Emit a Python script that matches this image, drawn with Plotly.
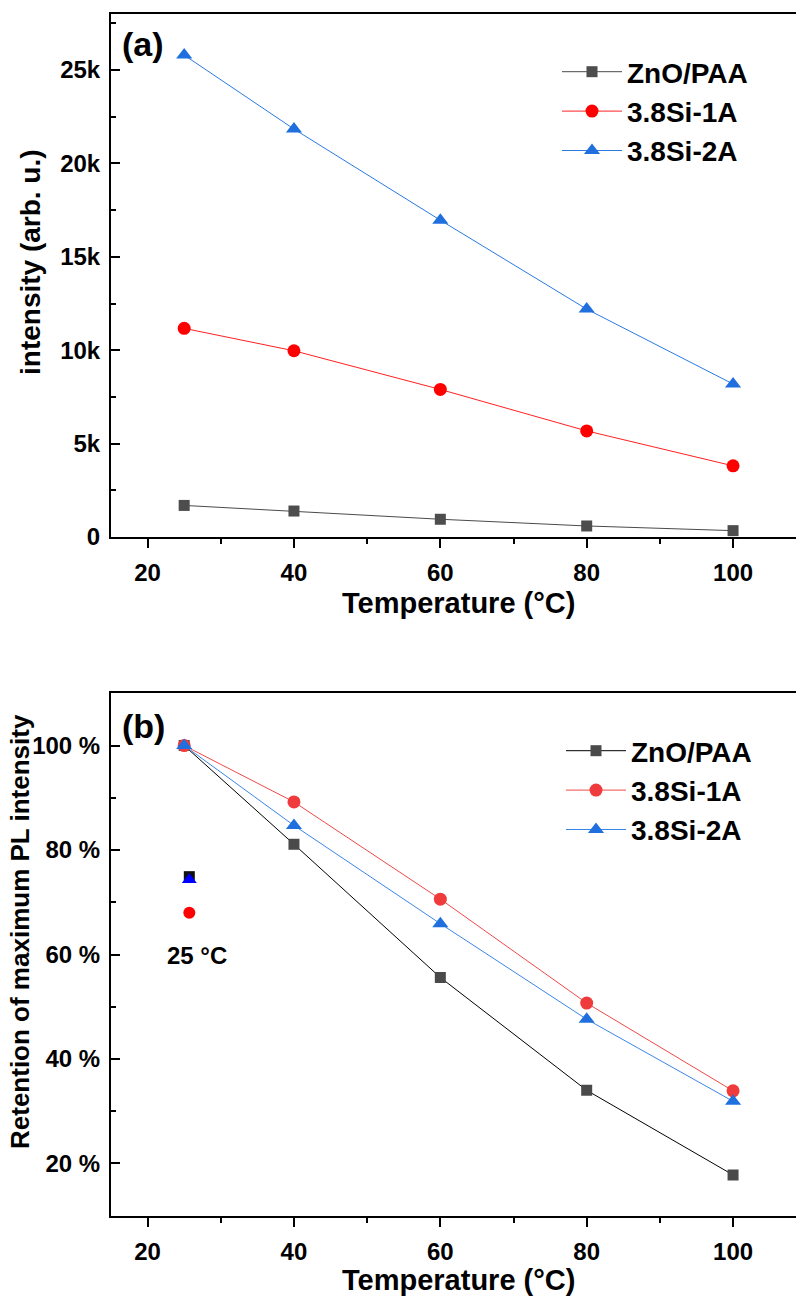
import plotly.graph_objects as go

# ---------------- data ----------------
temps = [25, 40, 60, 80, 100]
series_names = ["ZnO/PAA", "3.8Si-1A", "3.8Si-2A"]

# panel (a): intensity (arb. u.)
int_zno = [1690, 1390, 950, 590, 340]
int_si1a = [11170, 9970, 7900, 5680, 3810]
int_si2a = [25800, 21840, 16960, 12200, 8190]

# panel (b): retention of maximum PL intensity (%)
ret_zno = [100, 81.1, 55.6, 34.0, 17.8]
ret_si1a = [100, 89.2, 70.6, 50.7, 33.9]
ret_si2a = [100, 84.7, 65.9, 47.6, 31.9]

# isolated reference points near 25 °C in panel (b)
ref_x = [25.7]
ref_zno = [74.9]
ref_si2a = [74.3]
ref_si1a = [68.0]
ref_label = "25 °C"

ytick_a_vals = [0, 5000, 10000, 15000, 20000, 25000]
ytick_a_text = ["0", "5k", "10k", "15k", "20k", "25k"]
ytick_b_vals = [20, 40, 60, 80, 100]
ytick_b_text = ["20 %", "40 %", "60 %", "80 %", "100 %"]
xtick_vals = [20, 40, 60, 80, 100]

# ---------------- styling ----------------
W = 796
REF_H = 1297          # reference picture height (layout positions measured in it)
H = 1310              # figure height (the photographed page is slightly taller)
FONT = "Liberation Sans, Arial, Helvetica, sans-serif"

def px_x(p):
    return p / W

def px_y(p):
    return 1 - p / REF_H

col_a = {"ZnO/PAA": ("#4a4a4a", "#4d4d4d"), "3.8Si-1A": ("#ff2020", "#ff0000"), "3.8Si-2A": ("#2a7ae2", "#1f6fde")}
col_b = {"ZnO/PAA": ("#000000", "#4a4a4a"), "3.8Si-1A": ("#f04848", "#ef3b3b"), "3.8Si-2A": ("#3a86e8", "#1f6fde")}
symbols = {"ZnO/PAA": ("square", 11), "3.8Si-1A": ("circle", 13), "3.8Si-2A": ("triangle-up", 14)}

fig = go.Figure()

for name, ys in zip(series_names, [int_zno, int_si1a, int_si2a]):
    lc, mc = col_a[name]
    sym, sz = symbols[name]
    fig.add_trace(go.Scatter(
        x=temps, y=ys, name=name, mode="lines+markers",
        line=dict(color=lc, width=1),
        marker=dict(symbol=sym, size=sz, color=mc, line=dict(width=0)),
        xaxis="x", yaxis="y", legend="legend"))

for name, ys in zip(series_names, [ret_zno, ret_si1a, ret_si2a]):
    lc, mc = col_b[name]
    sym, sz = symbols[name]
    fig.add_trace(go.Scatter(
        x=temps, y=ys, name=name, mode="lines+markers",
        line=dict(color=lc, width=1),
        marker=dict(symbol=sym, size=sz, color=mc, line=dict(width=0)),
        xaxis="x2", yaxis="y2", legend="legend2"))

# isolated points
fig.add_trace(go.Scatter(x=ref_x, y=ref_zno, mode="markers", showlegend=False,
                         marker=dict(symbol="square", size=11, color="#111111"),
                         xaxis="x2", yaxis="y2"))
fig.add_trace(go.Scatter(x=ref_x, y=ref_si2a, mode="markers", showlegend=False,
                         marker=dict(symbol="triangle-up", size=13, color="#0000ff"),
                         xaxis="x2", yaxis="y2"))
fig.add_trace(go.Scatter(x=ref_x, y=ref_si1a, mode="markers", showlegend=False,
                         marker=dict(symbol="circle", size=12, color="#ff0000"),
                         xaxis="x2", yaxis="y2"))

tickfont = dict(family=FONT, size=24, color="black", weight="bold")

def xaxis_cfg(anchor):
    return dict(
        domain=[px_x(111), 1], anchor=anchor, range=[15, 108.6],
        tickmode="array", tickvals=xtick_vals,
        ticks="outside", ticklen=9, tickwidth=2, tickcolor="black",
        minor=dict(dtick=10, tick0=0, ticks="outside", ticklen=5, tickwidth=2, tickcolor="black"),
        showline=True, linewidth=2, linecolor="black", mirror=True,
        showgrid=False, zeroline=False, tickfont=dict(tickfont), ticklabelstandoff=4)

def yaxis_cfg(anchor, top, bottom, rng, vals, text, minor_dt):
    return dict(
        domain=[px_y(bottom), px_y(top)], anchor=anchor, range=rng,
        tickmode="array", tickvals=vals, ticktext=text,
        ticks="inside", ticklen=9, tickwidth=2, tickcolor="black",
        minor=dict(dtick=minor_dt, tick0=0, ticks="inside", ticklen=5, tickwidth=2, tickcolor="black"),
        showline=True, linewidth=2, linecolor="black", mirror=False,
        showgrid=False, zeroline=False, tickfont=dict(tickfont), ticklabelstandoff=4)

leg_font = dict(family=FONT, size=28, color="black", weight="bold")

fig.update_layout(
    width=W, height=H, autosize=False,
    margin=dict(l=0, r=0, t=0, b=0),
    paper_bgcolor="white", plot_bgcolor="white",
    font=dict(family=FONT, color="black"),
    hovermode=False,
    xaxis=xaxis_cfg("y"),
    xaxis2=xaxis_cfg("y2"),
    yaxis=yaxis_cfg("x", 14, 537, [0, 28000], ytick_a_vals, ytick_a_text, 2500),
    yaxis2=yaxis_cfg("x2", 693.3, 1215.7, [10, 110], ytick_b_vals, ytick_b_text, 10),
    legend=dict(x=px_x(557), y=px_y(47), xanchor="left", yanchor="top",
                bgcolor="rgba(0,0,0,0)", borderwidth=0, itemwidth=60,
                font=leg_font, tracegroupgap=0),
    legend2=dict(x=px_x(561), y=px_y(726), xanchor="left", yanchor="top",
                 bgcolor="rgba(0,0,0,0)", borderwidth=0, itemwidth=60,
                 font=leg_font, tracegroupgap=0),
)

def tfont(size):
    return dict(family=FONT, size=size, color="black", weight="bold")

annotations = [
    dict(text="Temperature (°C)", x=px_x(458), y=px_y(603), xref="paper", yref="paper",
         xanchor="center", yanchor="middle", showarrow=False, font=tfont(29)),
    dict(text="Temperature (°C)", x=px_x(458), y=px_y(1280), xref="paper", yref="paper",
         xanchor="center", yanchor="middle", showarrow=False, font=tfont(29)),
    dict(text="intensity (arb. u.)", x=px_x(30), y=px_y(262), xref="paper", yref="paper",
         xanchor="center", yanchor="middle", textangle=-90, showarrow=False, font=tfont(28)),
    dict(text="Retention of maximum PL intensity", x=px_x(20), y=px_y(932), xref="paper", yref="paper",
         xanchor="center", yanchor="middle", textangle=-90, showarrow=False, font=tfont(26)),
    dict(text="(a)", x=px_x(143), y=px_y(44), xref="paper", yref="paper",
         xanchor="center", yanchor="middle", showarrow=False, font=tfont(34)),
    dict(text="(b)", x=px_x(143), y=px_y(726), xref="paper", yref="paper",
         xanchor="center", yanchor="middle", showarrow=False, font=tfont(34)),
    dict(text=ref_label, x=26.7, y=59.9, xref="x2", yref="y2",
         xanchor="center", yanchor="middle", showarrow=False, font=tfont(24)),
]
fig.update_layout(annotations=annotations)

post = (
    "document.documentElement.style.margin='0';"
    "document.documentElement.style.padding='0';"
    "document.body.style.margin='0';"
    "document.body.style.padding='0';"
)
fig.write_html(
    "out.html",
    config={"displayModeBar": False, "staticPlot": True},
    post_script=post,
)
